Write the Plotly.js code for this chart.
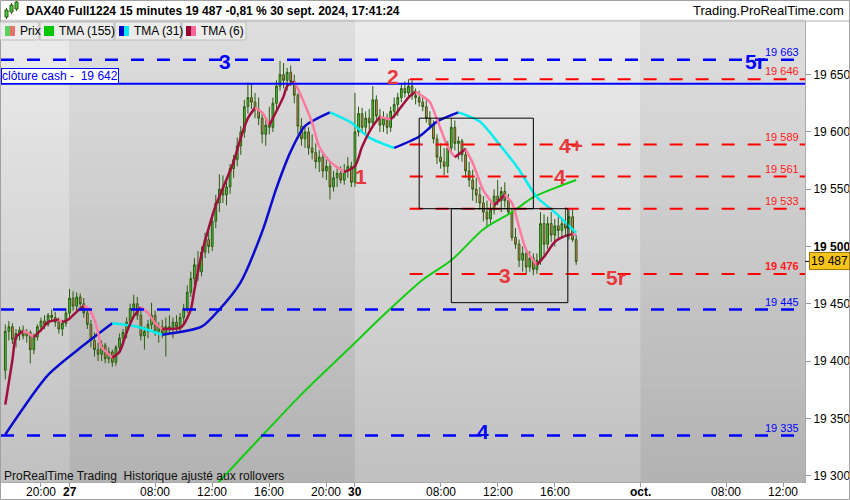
<!DOCTYPE html>
<html><head><meta charset="utf-8">
<script src="https://cdn.plot.ly/plotly-3.0.1.min.js"></script>
<style>html,body{margin:0;padding:0;background:#fff}#chart{width:850px;height:500px}</style>
</head><body><div id="chart"></div>
<script>
// ---------------- DATA ----------------
const barSessions = [
  {day:'2024-09-26', start:'17:30', bars:18},
  {day:'2024-09-27', start:'02:00', bars:80},
  {day:'2024-09-30', start:'02:00', bars:63}
];
const openP = [19392,19426,19430,19419,19424,19427,19422,19425,19410,19421,19430,19435,19432,19440,19438,19434,19428,19433,
19442,19455,19448,19456,19450,19442,19432,19418,19410,19406,19414,19402,19408,19399,19412,19420,19425,19434,19446,19450,19440,19422,19426,19432,19440,19426,19430,19424,19430,19428,19434,19430,19438,19446,19460,19472,19484,19478,19495,19506,19500,19522,19538,19550,19545,19552,19568,19576,19588,19600,19622,19630,19626,19620,19612,19598,19606,19604,19625,19640,19650,19645,19652,19644,19632,19605,19594,19600,19586,19582,19574,19578,19566,19570,19552,19560,19564,19558,19566,19570,
19556,19600,19616,19604,19612,19608,19628,19614,19606,19612,19604,19618,19624,19630,19638,19634,19640,19632,19630,19626,19622,19612,19606,19594,19578,19574,19570,19586,19604,19590,19592,19580,19566,19558,19550,19545,19538,19530,19524,19532,19544,19540,19548,19540,19530,19508,19502,19488,19494,19482,19490,19480,19488,19520,19502,19520,19510,19518,19514,19520,19516,19526,19506];
const highP = [19432,19435,19433,19428,19430,19431,19428,19427,19424,19432,19438,19440,19442,19445,19443,19438,19436,19446,
19463,19461,19460,19459,19455,19446,19436,19425,19416,19418,19416,19412,19410,19414,19424,19428,19438,19450,19458,19456,19444,19430,19436,19451,19444,19434,19436,19438,19440,19438,19440,19442,19450,19466,19478,19490,19496,19500,19512,19518,19528,19545,19563,19562,19558,19572,19580,19595,19605,19628,19643,19642,19634,19630,19616,19612,19622,19630,19645,19662,19660,19656,19658,19650,19634,19612,19606,19604,19598,19590,19584,19582,19576,19574,19566,19568,19570,19572,19578,19574,
19634,19622,19621,19618,19620,19640,19632,19620,19618,19616,19622,19630,19634,19642,19644,19646,19645,19638,19636,19632,19628,19618,19610,19598,19590,19586,19592,19612,19610,19596,19594,19586,19574,19567,19560,19552,19544,19540,19538,19550,19558,19552,19556,19546,19534,19516,19506,19500,19498,19496,19494,19494,19530,19528,19526,19530,19524,19528,19524,19534,19532,19532,19510];
const lowP = [19384,19418,19415,19412,19418,19419,19416,19398,19406,19418,19426,19428,19430,19434,19430,19424,19422,19430,
19438,19444,19442,19444,19438,19428,19412,19404,19400,19400,19398,19398,19395,19396,19408,19414,19420,19430,19440,19436,19418,19410,19420,19428,19422,19416,19420,19404,19424,19420,19426,19426,19432,19442,19456,19466,19470,19474,19490,19494,19496,19516,19530,19538,19536,19546,19560,19570,19580,19595,19616,19620,19612,19606,19590,19588,19598,19600,19620,19636,19638,19636,19640,19625,19598,19588,19586,19580,19576,19568,19565,19560,19558,19541,19548,19552,19555,19554,19560,19552,
19552,19596,19600,19598,19602,19604,19610,19600,19600,19598,19600,19612,19614,19626,19630,19630,19628,19624,19622,19618,19608,19602,19590,19572,19568,19562,19564,19582,19584,19576,19574,19560,19552,19540,19538,19532,19522,19517,19520,19528,19536,19530,19534,19528,19505,19498,19482,19478,19476,19478,19475,19476,19484,19492,19498,19504,19500,19506,19508,19510,19506,19504,19484];
const closeP = [19426,19430,19419,19424,19427,19422,19425,19410,19421,19430,19435,19432,19440,19438,19434,19428,19433,19442,
19455,19448,19456,19450,19442,19432,19418,19410,19406,19414,19402,19408,19399,19412,19420,19425,19434,19446,19450,19440,19422,19426,19432,19440,19426,19430,19424,19430,19428,19434,19430,19438,19446,19460,19472,19484,19478,19495,19506,19500,19522,19538,19550,19545,19552,19568,19576,19588,19600,19622,19630,19626,19620,19612,19598,19606,19604,19625,19640,19650,19645,19652,19644,19632,19605,19594,19600,19586,19582,19574,19578,19566,19570,19552,19560,19564,19558,19566,19570,19556,
19600,19616,19604,19612,19608,19628,19614,19606,19612,19604,19618,19624,19630,19638,19634,19640,19632,19630,19626,19622,19612,19606,19594,19578,19574,19570,19586,19604,19590,19592,19580,19566,19558,19550,19545,19538,19530,19524,19532,19544,19540,19548,19540,19530,19508,19502,19488,19494,19482,19490,19480,19488,19520,19502,19520,19510,19518,19514,19520,19516,19526,19506,19487];

// moving averages (bar index -> value)
const tma155Idx = [57,69,83,97,107,117,125,134,142,148,154,160];
const tma155Val = [19285,19325,19371,19413,19443,19471,19488,19515,19530,19543,19551,19558];
const tma31Idx = [0,12,22,30,37,44,55,60,66,72,76,80,84,91,97,102,109,116,121,127,133,138,144,149,154,159,160];
const tma31Val = [19336,19388,19414,19433,19430,19423,19430,19445,19469,19513,19551,19583,19605,19617,19608,19595,19586,19596,19609,19617,19609,19591,19567,19543,19530,19515,19512];
const tma6Idx = [0,2,3,5,6,8,10,12,15,16,18,20,22,23,25,26,27,29,30,32,34,36,38,40,42,44,46,49,50,52,53,55,57,59,61,64,66,68,70,72,74,76,78,79,81,83,86,88,91,95,98,100,103,105,108,109,113,115,117,119,121,124,126,129,131,134,137,139,140,142,144,146,149,151,154,156,159,160];
const tma6Val = [19362,19401,19421,19426,19425,19421,19427,19434,19436,19434,19437,19443,19448,19447,19436,19425,19412,19406,19403,19408,19425,19439,19447,19442,19433,19428,19428,19429,19432,19445,19462,19493,19516,19536,19551,19574,19595,19612,19621,19617,19606,19618,19631,19640,19644,19631,19608,19587,19574,19565,19570,19587,19605,19613,19611,19614,19630,19635,19631,19626,19611,19587,19578,19585,19573,19549,19536,19542,19545,19538,19517,19497,19484,19491,19504,19508,19511,19510];

// levels
const cashClose = 19642;
const blueLevels = [19663, 19445, 19335];
const redLevels = [19646, 19589, 19561, 19533, 19476];
const redLevelStart = '2024-09-30 05:50';
const boxes = [
  {x0:'2024-09-30 06:30', x1:'2024-09-30 14:30', y0:19533, y1:19612},
  {x0:'2024-09-30 08:45', x1:'2024-09-30 16:55', y0:19451, y1:19533}
];
const lastPrice = 19487;
const yTicks = [19300,19350,19400,19450,19500,19550,19600,19650];
const xTickVals = ['2024-09-26 20:00','2024-09-27 02:00','2024-09-27 08:00','2024-09-27 12:00','2024-09-27 16:00','2024-09-27 20:00','2024-09-30 02:00','2024-09-30 08:00','2024-09-30 12:00','2024-09-30 16:00','2024-10-01 02:00','2024-10-01 08:00','2024-10-01 12:00'];
const xTickText = ['20:00','<b>27</b>','08:00','12:00','16:00','20:00','<b>30</b>','08:00','12:00','16:00','<b>oct.</b>','08:00','12:00'];
const xRange = ['2024-09-26 17:12','2024-10-01 13:32'];
const yRange = [19294.5, 19696.8];

// ---------------- BUILD ----------------
const FONT = '"Liberation Sans", Arial, sans-serif';
function buildTimes(){
  const t=[];
  for(const s of barSessions){
    const [h,m]=s.start.split(':').map(Number);
    const base=h*60+m;
    for(let i=0;i<s.bars;i++){
      const mm=base+15*i;
      t.push(s.day+' '+String(Math.floor(mm/60)).padStart(2,'0')+':'+String(mm%60).padStart(2,'0'));
    }
  }
  return t;
}
const times = buildTimes();
const fmt = v => String(v).replace(/\B(?=(\d{3})+(?!\d))/g,' ');

const traces = [];
traces.push({
  type:'candlestick', x:times, open:openP, high:highP, low:lowP, close:closeP,
  increasing:{line:{color:'#2b5c0c',width:1}, fillcolor:'#3fcf3f'},
  decreasing:{line:{color:'#2b5c0c',width:1}, fillcolor:'#ec7c6c'},
  whiskerwidth:0, showlegend:false, hoverinfo:'skip'
});

function addMA(idx, vals, upColor, downColor, width){
  let cur=null; const runs=[];
  for(let i=0;i<idx.length-1;i++){
    const up = vals[i+1]>=vals[i];
    if(!cur || cur.up!==up){ cur={up, x:[times[idx[i]]], y:[vals[i]]}; runs.push(cur); }
    cur.x.push(times[idx[i+1]]); cur.y.push(vals[i+1]);
  }
  for(const r of runs){
    traces.push({type:'scatter', mode:'lines', x:r.x, y:r.y,
      line:{color: r.up?upColor:downColor, width:width, shape:'spline', smoothing:0.7},
      showlegend:false, hoverinfo:'skip'});
  }
}
traces.push({type:'scatter', mode:'lines', x:tma155Idx.map(i=>times[i]), y:tma155Val,
  line:{color:'#11cc11', width:2, shape:'spline', smoothing:0.8}, showlegend:false, hoverinfo:'skip'});
addMA(tma31Idx, tma31Val, '#0b0bd0', '#00eeee', 2.5);
addMA(tma6Idx, tma6Val, '#a0103c', '#ff7aa0', 2.5);

// geometry helpers for decoration (plot area in pixels)
const PL=1, PR=805, PT=21, PB=482;
const px2x = px => (px-PL)/(PR-PL);
const py2y = py => (PB-py)/(PB-PT);

const shapes = [];
const bands = [
  {x0:xRange[0], x1:'2024-09-26 22:00', top:[236,236,236], bot:[192,192,192]},
  {x0:'2024-09-27 02:00', x1:'2024-09-27 22:00', top:[223,223,223], bot:[178,178,178]},
  {x0:'2024-09-30 02:00', x1:'2024-09-30 22:00', top:[236,236,236], bot:[192,192,192]},
  {x0:'2024-10-01 02:00', x1:xRange[1], top:[223,223,223], bot:[178,178,178]}
];
const N=40;
for(const b of bands){
  for(let i=0;i<N;i++){
    const t=(i+0.5)/N;
    const c=b.bot.map((v,j)=>Math.round(v+(b.top[j]-v)*t));
    shapes.push({type:'rect', layer:'below', xref:'x', yref:'paper', x0:b.x0, x1:b.x1, y0:i/N, y1:(i+1)/N+0.003,
      fillcolor:`rgb(${c[0]},${c[1]},${c[2]})`, line:{width:0}});
  }
}
shapes.push({type:'line', xref:'paper', yref:'y', x0:0, x1:1, y0:cashClose, y1:cashClose, line:{color:'#0000ff', width:2}});
for(const v of blueLevels){
  shapes.push({type:'line', xref:'paper', yref:'y', x0:0, x1:1, y0:v, y1:v, line:{color:'#0000ff', width:2.5, dash:'13px,13px'}});
}
for(const v of redLevels){
  shapes.push({type:'line', xref:'x', yref:'y', x0:redLevelStart, x1:xRange[1], y0:v, y1:v, line:{color:'#ff0000', width:2, dash:'13px,13px'}});
}
for(const b of boxes){
  shapes.push({type:'rect', xref:'x', yref:'y', x0:b.x0, x1:b.x1, y0:b.y0, y1:b.y1, line:{color:'#000', width:1}, fillcolor:'rgba(0,0,0,0)'});
}
shapes.push({type:'line', xref:'paper', yref:'y', x0:1, x1:1.006, y0:lastPrice, y1:lastPrice, line:{color:'#000', width:1}});
shapes.push({type:'line', xref:'paper', yref:'paper', x0:px2x(0), x1:px2x(850), y0:py2y(21), y1:py2y(21), line:{color:'#b0b0b0', width:1}});
shapes.push({type:'rect', xref:'paper', yref:'paper', x0:px2x(0.5), x1:px2x(849.5), y0:py2y(0.5), y1:py2y(499.5), line:{color:'#a0a0a0', width:1}});
const legendBoxes = [
  {x0:0, x1:39, text:'Prix', c1:'#5ad25a', c2:'#e87070', ix:5},
  {x0:40, x1:114, text:'TMA (155)', c1:'#00c800', c2:'#00c800', ix:44},
  {x0:115, x1:181, text:'TMA (31)', c1:'#0000c8', c2:'#00e8ff', ix:119},
  {x0:182, x1:246, text:'TMA (6)', c1:'#990033', c2:'#ff6699', ix:186}
];
for(const lb of legendBoxes){
  shapes.push({type:'rect', xref:'paper', yref:'paper', x0:px2x(lb.x0), x1:px2x(lb.x1), y0:py2y(40), y1:py2y(22), fillcolor:'#ececec', line:{color:'#bdbdbd', width:1}});
  shapes.push({type:'rect', xref:'paper', yref:'paper', x0:px2x(lb.ix), x1:px2x(lb.ix+5), y0:py2y(36), y1:py2y(26), fillcolor:lb.c1, line:{width:0}});
  shapes.push({type:'rect', xref:'paper', yref:'paper', x0:px2x(lb.ix+5), x1:px2x(lb.ix+10), y0:py2y(36), y1:py2y(26), fillcolor:lb.c2, line:{width:0}});
}
const icon = [[5,8,10,17,8,19],[10,13,5,12,3,14],[15,18,2,9,1,11]];
for(const c of icon){
  shapes.push({type:'line', xref:'paper', yref:'paper', x0:px2x((c[0]+c[1])/2), x1:px2x((c[0]+c[1])/2), y0:py2y(c[5]), y1:py2y(c[4]), line:{color:'#2b5c0c', width:1}});
  shapes.push({type:'rect', xref:'paper', yref:'paper', x0:px2x(c[0]), x1:px2x(c[1]), y0:py2y(c[3]), y1:py2y(c[2]), fillcolor:'#46c846', line:{color:'#2b5c0c', width:1}});
}

const annotations = [];
function ann(o){ annotations.push(Object.assign({showarrow:false, font:{family:FONT, size:12, color:'#000'}}, o)); }
ann({xref:'paper', yref:'paper', x:px2x(24), y:py2y(11), xanchor:'left', yanchor:'middle',
  text:'<b>DAX40 Full1224 15 minutes 19 487 -0,81 % 30 sept. 2024, 17:41:24</b>'});
ann({xref:'paper', yref:'paper', x:px2x(846), y:py2y(11), xanchor:'right', yanchor:'middle', text:'Trading.ProRealTime.com', font:{family:FONT, size:13, color:'#000'}});
for(const lb of legendBoxes){
  ann({xref:'paper', yref:'paper', x:px2x(lb.ix+13), y:py2y(31), xanchor:'left', yanchor:'middle', text:lb.text});
}
// x tick labels as annotations at the tick dates
xTickVals.forEach((v,i)=>{
  ann({xref:'x', yref:'paper', x:v, y:py2y(492), xanchor:'center', yanchor:'middle', text:xTickText[i], font:{family:FONT, size:12, color:'#000'}});
});
ann({xref:'paper', yref:'y', x:0, y:cashClose, xanchor:'left', yanchor:'bottom', yshift:0,
  text:'clôture cash -\u00a0\u00a019 642', font:{family:FONT, size:12, color:'#0000ff'},
  bgcolor:'#ffffff', bordercolor:'#0000ff', borderwidth:1, borderpad:0});
ann({xref:'paper', yref:'paper', x:px2x(2), y:py2y(476), xanchor:'left', yanchor:'middle',
  text:'ProRealTime Trading\u00a0 Historique ajusté aux rollovers', font:{family:FONT, size:12, color:'#111'}});
for(const v of blueLevels){
  ann({xref:'paper', yref:'y', x:px2x(801), y:v, xanchor:'right', yanchor:'bottom', text:fmt(v), font:{family:FONT, size:11, color:'#0000ff'}});
}
for(const v of redLevels){
  const last = v===19476;
  ann({xref:'paper', yref:'y', x:px2x(801), y:v, xanchor:'right', yanchor:'bottom', text: last?'<b>'+fmt(v)+'</b>':fmt(v), font:{family:FONT, size:11, color:'#ff1a1a'}});
}
ann({xref:'paper', yref:'y', x:1, y:lastPrice, xanchor:'left', yanchor:'middle', xshift:4, text:fmt(lastPrice),
  bgcolor:'#f7c41c', bordercolor:'#a07a00', borderwidth:1, borderpad:1, font:{family:FONT, size:12, color:'#000'}});
const bigLabels = [
  {t:'3', c:'#0000ff', px:225, py:62}, {t:'5r', c:'#0000ff', px:755, py:61},
  {t:'2', c:'#e8383c', px:393, py:76}, {t:'1', c:'#e8383c', px:361, py:176},
  {t:'4+', c:'#e8383c', px:571, py:145}, {t:'4', c:'#e8383c', px:560, py:176},
  {t:'3', c:'#e8383c', px:505, py:275}, {t:'5r', c:'#e8383c', px:616, py:277},
  {t:'4', c:'#0000ff', px:483, py:431}
];
for(const b of bigLabels){
  ann({xref:'paper', yref:'paper', x:px2x(b.px), y:py2y(b.py), xanchor:'center', yanchor:'middle', text:'<b>'+b.t+'</b>', font:{family:FONT, size:21, color:b.c}});
}

const layout = {
  width:850, height:500, margin:{l:PL, r:850-PR, t:PT, b:500-PB}, paper_bgcolor:'#ffffff', plot_bgcolor:'#cfcfcf',
  showlegend:false, hovermode:false, font:{family:FONT, size:12, color:'#000'},
  xaxis:{type:'date', range:xRange, rangeslider:{visible:false},
    rangebreaks:[{bounds:['sat','mon']},{pattern:'hour', bounds:[22,2]}],
    tickmode:'array', tickvals:xTickVals, showticklabels:false, ticks:'outside', ticklen:4, tickcolor:'#999',
    showgrid:false, zeroline:false, showline:true, linecolor:'#aaa', fixedrange:true},
  yaxis:{side:'right', range:yRange, tickmode:'array', tickvals:yTicks,
    ticktext:yTicks.map(v=> v===19500?'<b>'+fmt(v)+'</b>':fmt(v)), ticks:'outside', ticklen:5, tickcolor:'#999',
    showgrid:false, zeroline:false, showline:true, linecolor:'#aaa', tickfont:{family:FONT, size:12, color:'#000'}, fixedrange:true},
  shapes, annotations
};
Plotly.newPlot('chart', traces, layout, {staticPlot:true, displayModeBar:false});
</script></body></html>
